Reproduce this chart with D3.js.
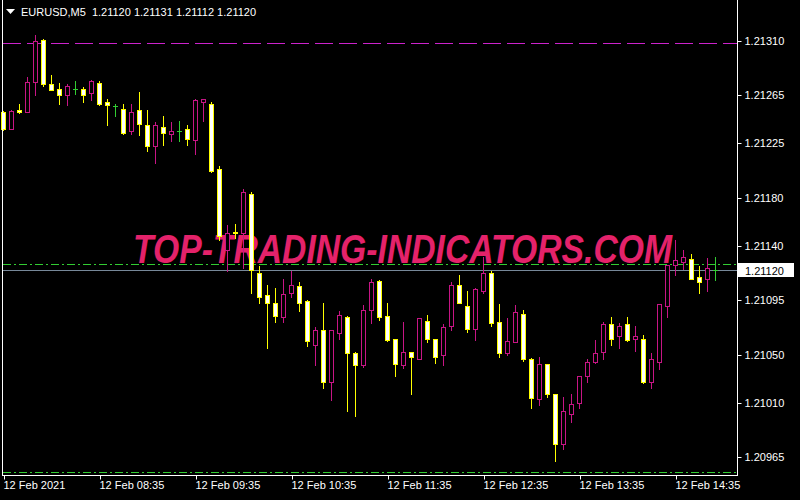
<!DOCTYPE html>
<html>
<head>
<meta charset="utf-8">
<script src="https://cdn.jsdelivr.net/npm/d3@7"></script>
<style>
  body { margin: 0; background: #000; }
  svg { display: block; }
</style>
</head>
<body>
<svg id="chart"></svg>
<script>
// EURUSD M5, 12 Feb 2021, one candle every 5 minutes from 07:35
const symbol = "EURUSD,M5";
const open = [1.21251,1.21237,1.21253,1.21251,1.21276,1.21311,1.21274,1.21270,1.21265,1.21270,
  1.21270,1.21267,1.21275,1.21259,1.21256,1.21254,1.21235,1.21253,1.21240,1.21223,
  1.21239,1.21233,1.21235,1.21237,1.21228,1.21259,1.21258,1.21204,1.21137,1.21152,
  1.21151,1.21183,1.21118,1.21099,1.21093,1.21081,1.21101,1.21107,1.21094,1.21058,
  1.21070,1.21027,1.21068,1.21081,1.21051,1.21041,1.21087,1.21111,1.21082,1.21063,
  1.21041,1.21052,1.21046,1.21078,1.21063,1.21050,1.21074,1.21108,1.21090,1.21071,
  1.21103,1.21118,1.21077,1.21051,1.21060,1.21084,1.21046,1.21013,1.21042,1.21017,
  1.20976,1.21001,1.21010,1.21032,1.21044,1.21052,1.21075,1.21065,1.21075,1.21063,
  1.21063,1.21027,1.21044,1.21090,1.21124,1.21127,1.21129,1.21114,1.21113,1.21120];
const high = [1.21252,1.21253,1.21258,1.21280,1.21315,1.21312,1.21282,1.21275,1.21274,1.21277,
  1.21272,1.21278,1.21277,1.21262,1.21258,1.21258,1.21258,1.21268,1.21253,1.21243,
  1.21248,1.21243,1.21244,1.21240,1.21262,1.21262,1.21259,1.21206,1.21157,1.21158,
  1.21187,1.21185,1.21123,1.21108,1.21105,1.21113,1.21119,1.21110,1.21095,1.21073,
  1.21093,1.21070,1.21086,1.21082,1.21052,1.21091,1.21113,1.21112,1.21093,1.21063,
  1.21077,1.21052,1.21080,1.21083,1.21063,1.21075,1.21110,1.21116,1.21103,1.21105,
  1.21131,1.21119,1.21092,1.21080,1.21091,1.21087,1.21047,1.21048,1.21042,1.21017,
  1.21015,1.21017,1.21032,1.21046,1.21062,1.21077,1.21081,1.21076,1.21081,1.21074,
  1.21066,1.21051,1.21092,1.21124,1.21145,1.21137,1.21133,1.21123,1.21130,1.21131];
const low = [1.21236,1.21237,1.21250,1.21251,1.21265,1.21273,1.21269,1.21258,1.21257,1.21266,
  1.21259,1.21261,1.21257,1.21240,1.21248,1.21233,1.21233,1.21232,1.21219,1.21209,
  1.21224,1.21227,1.21227,1.21224,1.21216,1.21244,1.21201,1.21145,1.21119,1.21147,
  1.21122,1.21101,1.21093,1.21055,1.21077,1.21077,1.21098,1.21086,1.21057,1.21041,
  1.21022,1.21012,1.21063,1.21003,1.20999,1.21040,1.21076,1.21079,1.21061,1.21032,
  1.21039,1.21017,1.21046,1.21060,1.21043,1.21041,1.21070,1.21093,1.21069,1.21062,
  1.21101,1.21074,1.21048,1.21050,1.21060,1.21045,1.21006,1.21008,1.21015,1.20962,
  1.20972,1.20994,1.21006,1.21027,1.21043,1.21046,1.21058,1.21055,1.21061,1.21053,
  1.21026,1.21022,1.21038,1.21081,1.21116,1.21121,1.21113,1.21101,1.21103,1.21112];
const close = [1.21237,1.21252,1.21251,1.21276,1.21310,1.21274,1.21269,1.21265,1.21273,1.21270,
  1.21265,1.21277,1.21258,1.21257,1.21256,1.21234,1.21251,1.21241,1.21223,1.21240,
  1.21234,1.21235,1.21235,1.21229,1.21261,1.21262,1.21202,1.21148,1.21151,1.21151,
  1.21185,1.21120,1.21098,1.21093,1.21082,1.21100,1.21108,1.21093,1.21061,1.21070,
  1.21027,1.21070,1.21083,1.21051,1.21041,1.21087,1.21110,1.21081,1.21062,1.21042,
  1.21052,1.21048,1.21080,1.21063,1.21048,1.21073,1.21108,1.21093,1.21071,1.21104,
  1.21118,1.21076,1.21051,1.21061,1.21085,1.21046,1.21014,1.21042,1.21017,1.20976,
  1.21003,1.21009,1.21032,1.21044,1.21051,1.21075,1.21063,1.21074,1.21062,1.21065,
  1.21027,1.21046,1.21092,1.21124,1.21128,1.21131,1.21113,1.21110,1.21122,1.21120];

const priceTicks = [1.21310, 1.21265, 1.21225, 1.21180, 1.21140, 1.21095, 1.21050, 1.21010, 1.20965];
const timeTickIndex = [0, 12, 24, 36, 48, 60, 72, 84];
const timeTickLabels = ["12 Feb 2021", "12 Feb 08:35", "12 Feb 09:35", "12 Feb 10:35",
  "12 Feb 11:35", "12 Feb 12:35", "12 Feb 13:35", "12 Feb 14:35"];
const bid = 1.21120, ask = 1.21125, topLevel = 1.21308, bottomLevel = 1.20952;

const width = 800, height = 500;
const right = 737, bottom = 475;
const font = "'Liberation Sans', Arial, sans-serif";

let svg = d3.select("#chart").attr("width", width).attr("height", height)
    .style("background", "#000");

// the price scale, MT4 style: price grows upwards
let y = d3.scaleLinear().domain([1.20965, 1.21310]).range([457, 41]);
// one candle every 8 pixels
let x = d3.scaleLinear().domain([0, 89]).range([3, 715]);
const py = v => Math.round(y(v)) + 0.5;

// watermark goes behind the candles
svg.append("text")
    .attr("x", 133).attr("y", 263)
    .attr("textLength", 539).attr("lengthAdjust", "spacingAndGlyphs")
    .style("font-family", font).style("font-weight", "bold").style("font-style", "italic")
    .style("font-size", "41px").style("fill", "#e4226a")
    .text("TOP-TRADING-INDICATORS.COM");

// horizontal levels
svg.append("line").attr("x1", 3).attr("x2", right).attr("y1", py(topLevel)).attr("y2", py(topLevel))
    .attr("stroke", "#cc22cc").attr("stroke-dasharray", "18,6");
svg.append("line").attr("x1", 3).attr("x2", right).attr("y1", py(ask)).attr("y2", py(ask))
    .attr("stroke", "#32cd32").attr("stroke-dasharray", "8,3,2,3");
svg.append("line").attr("x1", 3).attr("x2", right).attr("y1", py(bid)).attr("y2", py(bid))
    .attr("stroke", "#778899");
svg.append("line").attr("x1", 3).attr("x2", right).attr("y1", bottom - 2.5).attr("y2", bottom - 2.5)
    .attr("stroke", "#32cd32").attr("stroke-dasharray", "8,3,2,3");

// candles
let candles = d3.range(open.length).map(i => ({i: i, o: open[i], h: high[i], l: low[i], c: close[i]}));
let colorOf = d => d.c > d.o ? "#c71585" : (d.c < d.o ? "#ffff00" : "#32cd32");

let g = svg.append("g");
g.selectAll("line.wick")
    .data(candles)
    .enter()
    .append("line")
    .attr("class", "wick")
    .attr("x1", d => Math.round(x(d.i)) + 0.5)
    .attr("x2", d => Math.round(x(d.i)) + 0.5)
    .attr("y1", d => Math.round(y(d.h)))
    .attr("y2", d => Math.round(y(d.l)) + 1)
    .attr("stroke", colorOf);

g.selectAll("rect.body")
    .data(candles.filter(d => d.o !== d.c))
    .enter()
    .append("rect")
    .attr("class", "body")
    .attr("x", d => Math.round(x(d.i)) - 1.5)
    .attr("y", d => py(Math.max(d.o, d.c)))
    .attr("width", 4)
    .attr("height", d => Math.max(1, Math.round(y(Math.min(d.o, d.c))) - Math.round(y(Math.max(d.o, d.c)))))
    .attr("fill", d => d.c > d.o ? "#000" : "#fff")
    .attr("stroke", colorOf);

// dojis are a small green cross
g.selectAll("line.doji")
    .data(candles.filter(d => d.o === d.c))
    .enter()
    .append("line")
    .attr("class", "doji")
    .attr("x1", d => Math.round(x(d.i)) - 2)
    .attr("x2", d => Math.round(x(d.i)) + 3)
    .attr("y1", d => py(d.o))
    .attr("y2", d => py(d.o))
    .attr("stroke", "#32cd32");

// frame
svg.append("line").attr("x1", 2.5).attr("x2", 2.5).attr("y1", 0).attr("y2", bottom + 0.5).attr("stroke", "#fff");
svg.append("line").attr("x1", right + 0.5).attr("x2", right + 0.5).attr("y1", 0).attr("y2", bottom + 0.5).attr("stroke", "#fff");
svg.append("line").attr("x1", 2).attr("x2", right + 1).attr("y1", bottom + 0.5).attr("y2", bottom + 0.5).attr("stroke", "#fff");

// price axis on the right
let yAxis = svg.append("g")
    .attr("transform", `translate(${right + 0.5},0)`)
    .call(d3.axisRight(y).tickValues(priceTicks).tickFormat(d3.format(".5f")).tickSize(4).tickPadding(3));
yAxis.select(".domain").remove();
yAxis.selectAll(".tick").attr("transform", d => `translate(0,${py(d)})`);
yAxis.selectAll(".tick line").attr("stroke", "#fff");
yAxis.selectAll(".tick text").attr("fill", "#fff").style("font-family", font).style("font-size", "11px");

// current price box
svg.append("rect").attr("x", right + 1).attr("y", py(bid) - 7.5).attr("width", 56).attr("height", 14).attr("fill", "#fff");
svg.append("text").attr("x", right + 8).attr("y", py(bid) + 4)
    .style("font-family", font).style("font-size", "11px").style("fill", "#000")
    .text(d3.format(".5f")(bid));

// time axis at the bottom
let xAxis = svg.append("g")
    .attr("transform", `translate(0,${bottom + 0.5})`)
    .call(d3.axisBottom(x).tickValues(timeTickIndex).tickFormat((d, i) => timeTickLabels[i]).tickSize(4).tickPadding(2));
xAxis.select(".domain").remove();
xAxis.selectAll(".tick").attr("transform", d => `translate(${Math.round(x(d)) + 1.5},0)`);
xAxis.selectAll(".tick line").attr("stroke", "#fff");
xAxis.selectAll(".tick text").attr("fill", "#fff").attr("text-anchor", "start").attr("x", -1)
    .style("font-family", font).style("font-size", "11px");

// title with the little menu triangle
svg.append("path").attr("d", "M6,9 L15,9 L10.5,14 Z").attr("fill", "#fff");
svg.append("text").attr("x", 21).attr("y", 16)
    .style("font-family", font).style("font-size", "11px").style("fill", "#fff")
    .attr("xml:space", "preserve")
    .text(`${symbol}  ${d3.format(".5f")(open[89])} ${d3.format(".5f")(high[89])} ${d3.format(".5f")(low[89])} ${d3.format(".5f")(close[89])}`);
</script>
</body>
</html>
